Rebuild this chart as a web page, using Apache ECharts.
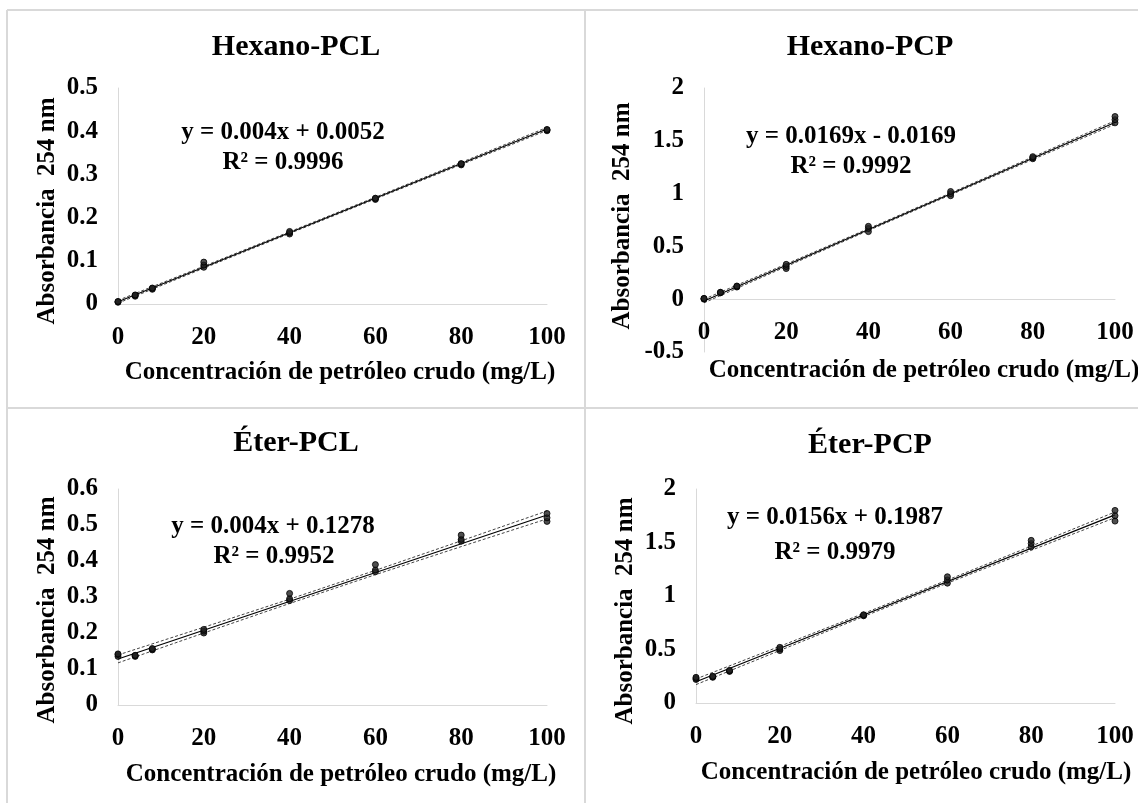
<!DOCTYPE html>
<html>
<head>
<meta charset="utf-8">
<script src="https://cdn.jsdelivr.net/npm/echarts@6/dist/echarts.min.js"></script>
<style>
html,body{margin:0;padding:0;background:#fff;}
#chart{width:1138px;height:803px;}
</style>
</head>
<body>
<div id="chart"></div>
<script>
// ---- data ----
const titles = ['Hexano-PCL', 'Hexano-PCP', 'Éter-PCL', 'Éter-PCP'];
const equations = ['y = 0.004x + 0.0052', 'y = 0.0169x - 0.0169', 'y = 0.004x + 0.1278', 'y = 0.0156x + 0.1987'];
const r2Labels = ['R² = 0.9996', 'R² = 0.9992', 'R² = 0.9952', 'R² = 0.9979'];
const xAxisName = 'Concentración de petróleo crudo (mg/L)';
const yAxisName = 'Absorbancia  254 nm';

const conc = [0, 4, 8, 20, 40, 60, 80, 100];

const hexPCL_rep1 = [0.004, 0.018, 0.034, 0.085, 0.162, 0.242, 0.322, 0.401];
const hexPCL_rep2 = [0.005, 0.020, 0.036, 0.090, 0.165, 0.244, 0.324, 0.403];
const hexPCL_rep3 = [0.006, 0.021, 0.037, 0.097, 0.168, 0.245, 0.325, 0.404];

const hexPCP_rep1 = [0.000, 0.060, 0.115, 0.290, 0.640, 0.980, 1.330, 1.670];
const hexPCP_rep2 = [0.005, 0.063, 0.120, 0.310, 0.670, 1.000, 1.340, 1.700];
const hexPCP_rep3 = [0.008, 0.066, 0.125, 0.330, 0.690, 1.020, 1.350, 1.730];

const eterPCL_rep1 = [0.135, 0.135, 0.153, 0.200, 0.290, 0.370, 0.455, 0.510];
const eterPCL_rep2 = [0.140, 0.137, 0.155, 0.205, 0.295, 0.375, 0.460, 0.520];
const eterPCL_rep3 = [0.142, 0.138, 0.157, 0.210, 0.310, 0.390, 0.472, 0.532];

const eterPCP_rep1 = [0.220, 0.240, 0.295, 0.490, 0.815, 1.120, 1.460, 1.700];
const eterPCP_rep2 = [0.230, 0.245, 0.300, 0.505, 0.820, 1.150, 1.490, 1.750];
const eterPCP_rep3 = [0.240, 0.250, 0.305, 0.520, 0.825, 1.180, 1.520, 1.800];

const trendX = [0, 100];
const hexPCL_trend = [0.0052, 0.4052];
const hexPCP_trend = [-0.0169, 1.6731];
const eterPCL_trend = [0.1278, 0.5278];
const eterPCP_trend = [0.1987, 1.7587];

const bandX = [0, 20, 40, 60, 80, 100];
const hexPCL_upper = [0.0085, 0.0875, 0.1672, 0.2472, 0.3277, 0.4087];
const hexPCL_lower = [0.0019, 0.0829, 0.1632, 0.2432, 0.3227, 0.4017];
const hexPCP_upper = [0.000, 0.333, 0.668, 1.006, 1.347, 1.690];
const hexPCP_lower = [-0.034, 0.309, 0.650, 0.988, 1.323, 1.656];
const eterPCL_upper = [0.139, 0.216, 0.294, 0.374, 0.456, 0.539];
const eterPCL_lower = [0.117, 0.200, 0.282, 0.362, 0.440, 0.517];
const eterPCP_upper = [0.225, 0.530, 0.837, 1.149, 1.466, 1.785];
const eterPCP_lower = [0.172, 0.491, 0.808, 1.120, 1.427, 1.732];

const yMin = [0, -0.5, 0, 0];
const yMax = [0.5, 2, 0.6, 2];
const yInterval = [0.1, 0.5, 0.1, 0.5];

// ---- layout ----
const FONT = '"Liberation Serif", "Times New Roman", serif';
const grids = [
  {left: 118, top: 88, width: 429, height: 216},
  {left: 704, top: 88, width: 411, height: 264},
  {left: 118, top: 489, width: 429, height: 216},
  {left: 696, top: 489, width: 419, height: 214}
];
// x-axis of panel 2 sits at y = 0 (above the grid bottom)
const xAxisOffset = [0, -52.8, 0, 0];
const titlePos = [[296, 47], [870, 47], [296, 443], [870, 445]];
const eqPos = [[283, 133], [851, 137], [273, 527], [835, 518]];
const r2Pos = [[283, 163], [851, 167], [274, 557], [835, 553]];
const xNamePos = [[340, 373], [924, 371], [341, 775], [916, 773]];
const yNamePos = [[48, 211], [623, 216], [48, 610], [626, 611]];

const reps = [
  [hexPCL_rep1, hexPCL_rep2, hexPCL_rep3],
  [hexPCP_rep1, hexPCP_rep2, hexPCP_rep3],
  [eterPCL_rep1, eterPCL_rep2, eterPCL_rep3],
  [eterPCP_rep1, eterPCP_rep2, eterPCP_rep3]
];
const trends = [hexPCL_trend, hexPCP_trend, eterPCL_trend, eterPCP_trend];
const uppers = [hexPCL_upper, hexPCP_upper, eterPCL_upper, eterPCP_upper];
const lowers = [hexPCL_lower, hexPCP_lower, eterPCL_lower, eterPCP_lower];

const zip = (xs, ys) => xs.map((x, i) => [x, ys[i]]);

const xAxes = [], yAxes = [], series = [], graphics = [];
const labelStyle = {fontFamily: FONT, fontWeight: 'bold', fontSize: 25, color: '#000'};

for (let i = 0; i < 4; i++) {
  xAxes.push({
    gridIndex: i, type: 'value', min: 0, max: 100, interval: 20,
    offset: xAxisOffset[i],
    axisLine: {show: true, onZero: false, lineStyle: {color: '#d9d9d9', width: 1}},
    axisTick: {show: false}, splitLine: {show: false},
    axisLabel: Object.assign({margin: 21}, labelStyle)
  });
  yAxes.push({
    gridIndex: i, type: 'value', min: yMin[i], max: yMax[i], interval: yInterval[i],
    axisLine: {show: true, onZero: false, lineStyle: {color: '#d9d9d9', width: 1}},
    axisTick: {show: false}, splitLine: {show: false},
    axisLabel: Object.assign({margin: 20}, labelStyle)
  });
  series.push({
    type: 'line', xAxisIndex: i, yAxisIndex: i, data: zip(bandX, uppers[i]),
    symbol: 'none', lineStyle: {color: '#444', width: 1, type: [3, 2]}, z: 2, silent: true
  });
  series.push({
    type: 'line', xAxisIndex: i, yAxisIndex: i, data: zip(bandX, lowers[i]),
    symbol: 'none', lineStyle: {color: '#444', width: 1, type: [3, 2]}, z: 2, silent: true
  });
  series.push({
    type: 'line', xAxisIndex: i, yAxisIndex: i, data: zip(trendX, trends[i]),
    symbol: 'none', lineStyle: {color: '#000', width: 1.2}, z: 3, silent: true
  });
  const pts = [];
  reps[i].forEach(r => r.forEach((v, k) => pts.push([conc[k], v])));
  series.push({
    type: 'scatter', xAxisIndex: i, yAxisIndex: i, data: pts,
    symbol: 'circle', symbolSize: 6,
    itemStyle: {color: '#222', borderColor: '#000', borderWidth: 1}, z: 5
  });

  const txt = (pos, text, size, rot) => ({
    type: 'text', x: pos[0], y: pos[1], rotation: rot || 0,
    style: {text: text, fontFamily: FONT, fontWeight: 'bold', fontSize: size, fill: '#000',
            textAlign: 'center', textVerticalAlign: 'middle'}
  });
  graphics.push(txt(titlePos[i], titles[i], 30));
  graphics.push(txt(eqPos[i], equations[i], 25));
  graphics.push(txt(r2Pos[i], r2Labels[i], 25));
  graphics.push(txt(xNamePos[i], xAxisName, 25));
  graphics.push(txt(yNamePos[i], yAxisName, 25, Math.PI / 2));
}

// panel borders
const border = (x1, y1, x2, y2) => ({
  type: 'line', shape: {x1: x1, y1: y1, x2: x2, y2: y2},
  style: {stroke: '#d9d9d9', lineWidth: 2}
});
graphics.push(border(7, 10, 1138, 10));
graphics.push(border(7, 10, 7, 803));
graphics.push(border(585, 10, 585, 803));
graphics.push(border(7, 408, 1138, 408));

const chart = echarts.init(document.getElementById('chart'));
chart.setOption({
  animation: false,
  backgroundColor: '#fff',
  grid: grids,
  xAxis: xAxes,
  yAxis: yAxes,
  series: series,
  graphic: graphics
});
</script>
</body>
</html>
